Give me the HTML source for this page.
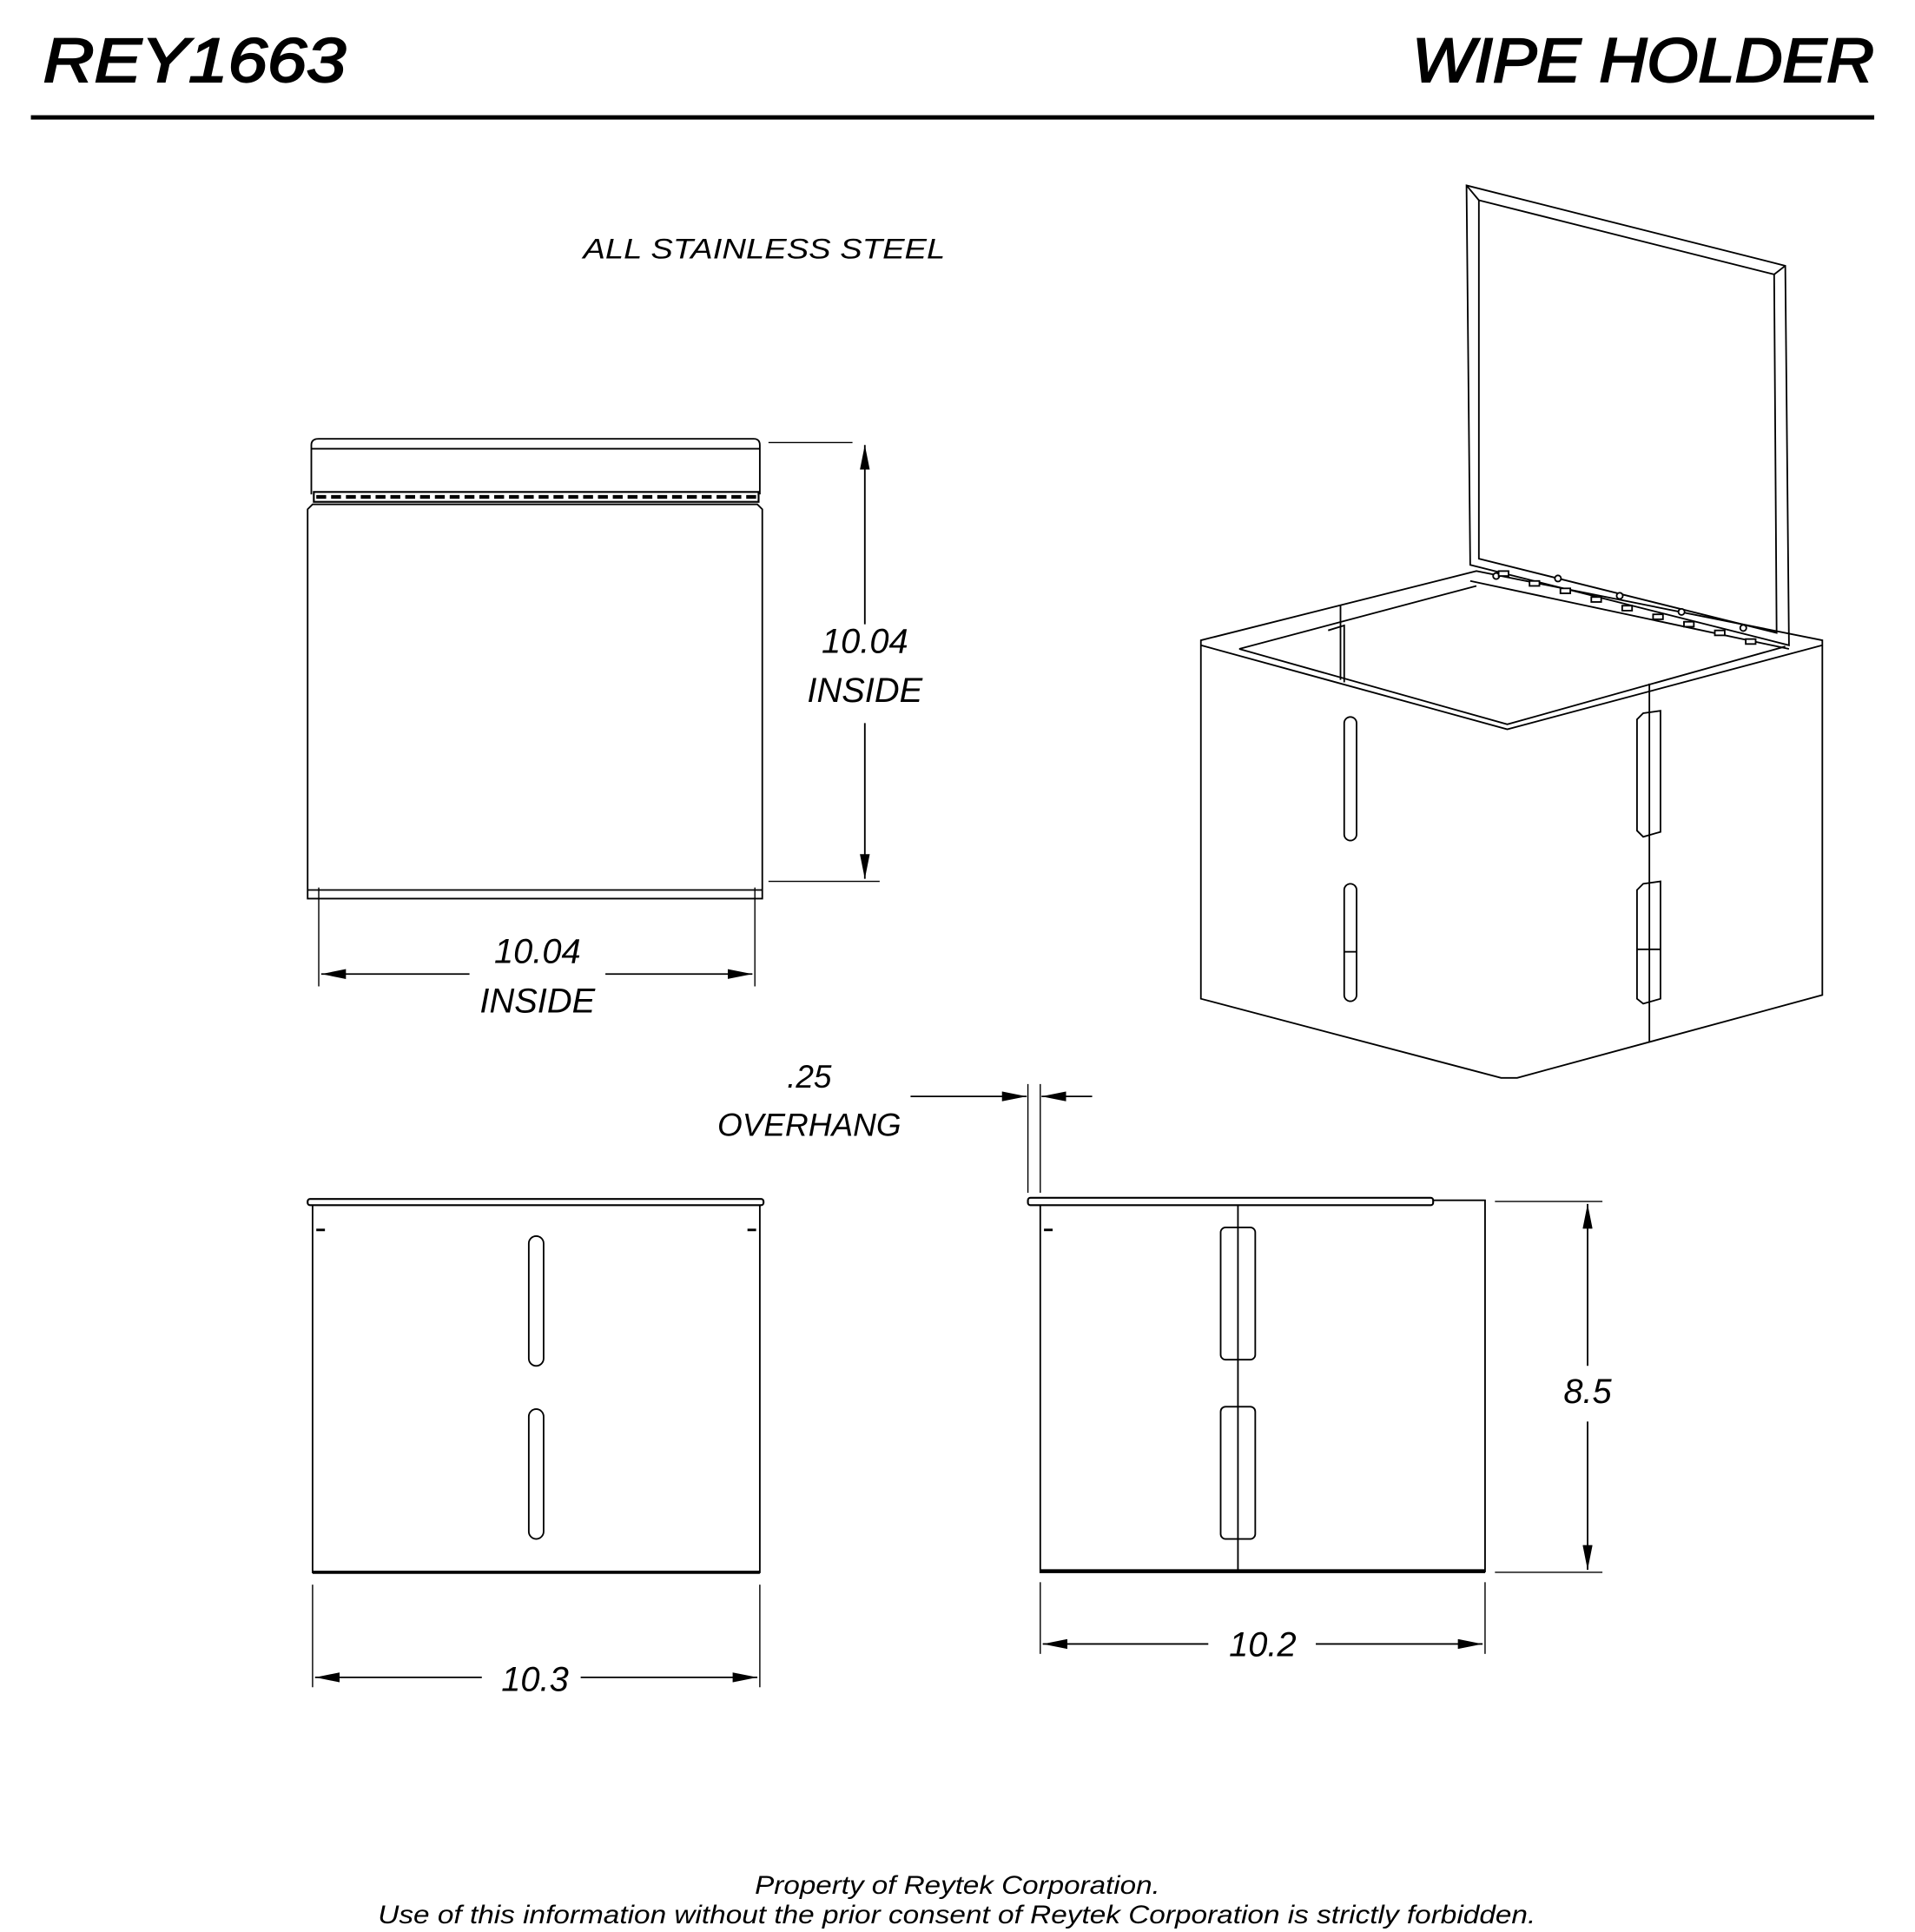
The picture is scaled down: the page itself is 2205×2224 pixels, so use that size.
<!DOCTYPE html>
<html><head><meta charset="utf-8"><style>
html,body{margin:0;padding:0;background:#fff;}
svg{display:block;}
text{font-family:"Liberation Sans",sans-serif;font-style:italic;fill:#000;}
</style></head><body>
<svg width="2205" height="2224" viewBox="0 0 1550 1563" preserveAspectRatio="none" xmlns="http://www.w3.org/2000/svg">
<defs>
<marker id="a" markerWidth="20" markerHeight="8" refX="20" refY="4" orient="auto" markerUnits="userSpaceOnUse"><path d="M0,0 L20,4 L0,8 Z" fill="#000"/></marker>
</defs>
<g fill="none" stroke="#000" stroke-width="1.3">
<line x1="25" y1="95" x2="1517" y2="95" stroke-width="3.5"/>
<path d="M252,400 L252,360 Q252,355 258,355 L610,355 Q615,355 615,360 L615,400"/>
<line x1="252" y1="363" x2="615" y2="363"/>
<rect x="254" y="398" width="360" height="8" stroke-width="1.5"/>
<path d="M256,402 H612" stroke-dasharray="8,4" stroke-width="3"/>
<path d="M249,727 L249,412 L253,408 L613,408 L617,412 L617,727 Z"/>
<line x1="249" y1="720" x2="617" y2="720"/>
<line x1="622" y1="358" x2="690" y2="358" stroke-width="1"/>
<line x1="622" y1="713" x2="712" y2="713" stroke-width="1"/>
<line x1="700" y1="360" x2="700" y2="505" marker-end="url(#a)" transform="rotate(180 700 432.5)"/>
<line x1="700" y1="585" x2="700" y2="711" marker-end="url(#a)"/>
<line x1="258" y1="718" x2="258" y2="798" stroke-width="1"/>
<line x1="611" y1="718" x2="611" y2="798" stroke-width="1"/>
<line x1="380" y1="788" x2="260" y2="788" marker-end="url(#a)"/>
<line x1="490" y1="788" x2="609" y2="788" marker-end="url(#a)"/>
<path d="M1187,150 L1445,215 L1448,522 L1190,457 Z"/>
<path d="M1197,162 L1436,222 L1438,512 L1197,452 Z"/>
<line x1="1187" y1="150" x2="1197" y2="162"/><line x1="1445" y1="215" x2="1436" y2="222"/>
<line x1="1190" y1="470" x2="1448" y2="525"/>
<path d="M972,518 L1195,462 L1475,518 L1475,805 L1228,872 L1215,872 L972,808 Z"/>
<path d="M972,522 L1220,590 L1475,522"/>
<path d="M1003,525 L1195,474 M1003,525 L1220,586 L1445,523"/>
<line x1="1085" y1="490" x2="1085" y2="550"/>
<path d="M1075,510 L1088,506 L1088,552"/>
<line x1="1335" y1="553" x2="1335" y2="843"/>
<rect x="1088" y="580" width="10" height="100" rx="5"/>
<rect x="1088" y="715" width="10" height="95" rx="5"/>
<path d="M1325,582 L1330,577 L1344,575 L1344,673 L1330,677 L1325,672 Z"/>
<path d="M1325,720 L1330,715 L1344,713 L1344,808 L1330,812 L1325,808 Z"/>
<line x1="1325" y1="768" x2="1344" y2="768"/>
<line x1="1088" y1="770" x2="1098" y2="770"/>
<g fill="#fff">
<circle cx="1211" cy="466" r="2.5"/><circle cx="1261" cy="468" r="2.5"/><circle cx="1311" cy="482" r="2.5"/><circle cx="1361" cy="495" r="2.5"/><circle cx="1411" cy="508" r="2.5"/>
<rect x="1213" y="462" width="8" height="4"/><rect x="1238" y="470" width="8" height="4"/><rect x="1263" y="476" width="8" height="4"/><rect x="1288" y="483" width="8" height="4"/><rect x="1313" y="490" width="8" height="4"/><rect x="1338" y="497" width="8" height="4"/><rect x="1363" y="503" width="8" height="4"/><rect x="1388" y="510" width="8" height="4"/><rect x="1413" y="517" width="8" height="4"/>
</g>
<rect x="249" y="970" width="369" height="5" rx="2" stroke-width="1.5"/>
<path d="M253,975 L253,1272 L615,1272 L615,975" />
<line x1="253" y1="1272" x2="615" y2="1272" stroke-width="2.5"/>
<path d="M256,995 H263 M612,995 H605" stroke-width="2"/>
<rect x="428" y="1000" width="12" height="105" rx="6"/>
<rect x="428" y="1140" width="12" height="105" rx="6"/>
<line x1="253" y1="1282" x2="253" y2="1365" stroke-width="1"/>
<line x1="615" y1="1282" x2="615" y2="1365" stroke-width="1"/>
<line x1="390" y1="1357" x2="255" y2="1357" marker-end="url(#a)"/>
<line x1="470" y1="1357" x2="613" y2="1357" marker-end="url(#a)"/>
<rect x="832" y="969" width="328" height="6" rx="2" stroke-width="1.5"/>
<path d="M1160,971 L1202,971 L1202,1272 M842,975 L842,1272 L1202,1272"/>
<line x1="842" y1="1271" x2="1202" y2="1271" stroke-width="3"/>
<path d="M845,995 H852" stroke-width="2"/>
<line x1="1002" y1="975" x2="1002" y2="1272"/>
<rect x="988" y="993" width="28" height="107" rx="4"/>
<rect x="988" y="1138" width="28" height="107" rx="4"/>
<line x1="1210" y1="972" x2="1297" y2="972" stroke-width="1"/>
<line x1="1210" y1="1272" x2="1297" y2="1272" stroke-width="1"/>
<line x1="1285" y1="1105" x2="1285" y2="974" marker-end="url(#a)"/>
<line x1="1285" y1="1150" x2="1285" y2="1270" marker-end="url(#a)"/>
<line x1="842" y1="1280" x2="842" y2="1338" stroke-width="1"/>
<line x1="1202" y1="1280" x2="1202" y2="1338" stroke-width="1"/>
<line x1="978" y1="1330" x2="844" y2="1330" marker-end="url(#a)"/>
<line x1="1065" y1="1330" x2="1200" y2="1330" marker-end="url(#a)"/>
<line x1="832" y1="877" x2="832" y2="965" stroke-width="1"/>
<line x1="842" y1="877" x2="842" y2="965" stroke-width="1"/>
<line x1="737" y1="887" x2="831" y2="887" marker-end="url(#a)"/>
<line x1="884" y1="887" x2="843" y2="887" marker-end="url(#a)"/>
</g>
<text x="35" y="66" font-size="50" textLength="245" lengthAdjust="spacingAndGlyphs" stroke="#000" stroke-width="1.5">REY1663</text>
<text x="1143" y="66" font-size="50" textLength="374" lengthAdjust="spacingAndGlyphs" stroke="#000" stroke-width="1.5">WIPE HOLDER</text>
<text x="472" y="209" font-size="23" textLength="293" lengthAdjust="spacingAndGlyphs">ALL STAINLESS STEEL</text>
<text x="700" y="528" font-size="28" text-anchor="middle">10.04</text>
<text x="700" y="568" font-size="28" text-anchor="middle">INSIDE</text>
<text x="435" y="779" font-size="28" text-anchor="middle">10.04</text>
<text x="435" y="819" font-size="28" text-anchor="middle">INSIDE</text>
<text x="655" y="880" font-size="26" text-anchor="middle">.25</text>
<text x="655" y="919" font-size="26" text-anchor="middle">OVERHANG</text>
<text x="433" y="1368" font-size="28" text-anchor="middle">10.3</text>
<text x="1022" y="1340" font-size="28" text-anchor="middle">10.2</text>
<text x="1285" y="1135" font-size="28" text-anchor="middle">8.5</text>
<text x="611" y="1532" font-size="21" textLength="328" lengthAdjust="spacingAndGlyphs">Property of Reytek Corporation.</text>
<text x="306" y="1556" font-size="21" textLength="937" lengthAdjust="spacingAndGlyphs">Use of this information without the prior consent of Reytek Corporation is strictly forbidden.</text>
</svg>
</body></html>
